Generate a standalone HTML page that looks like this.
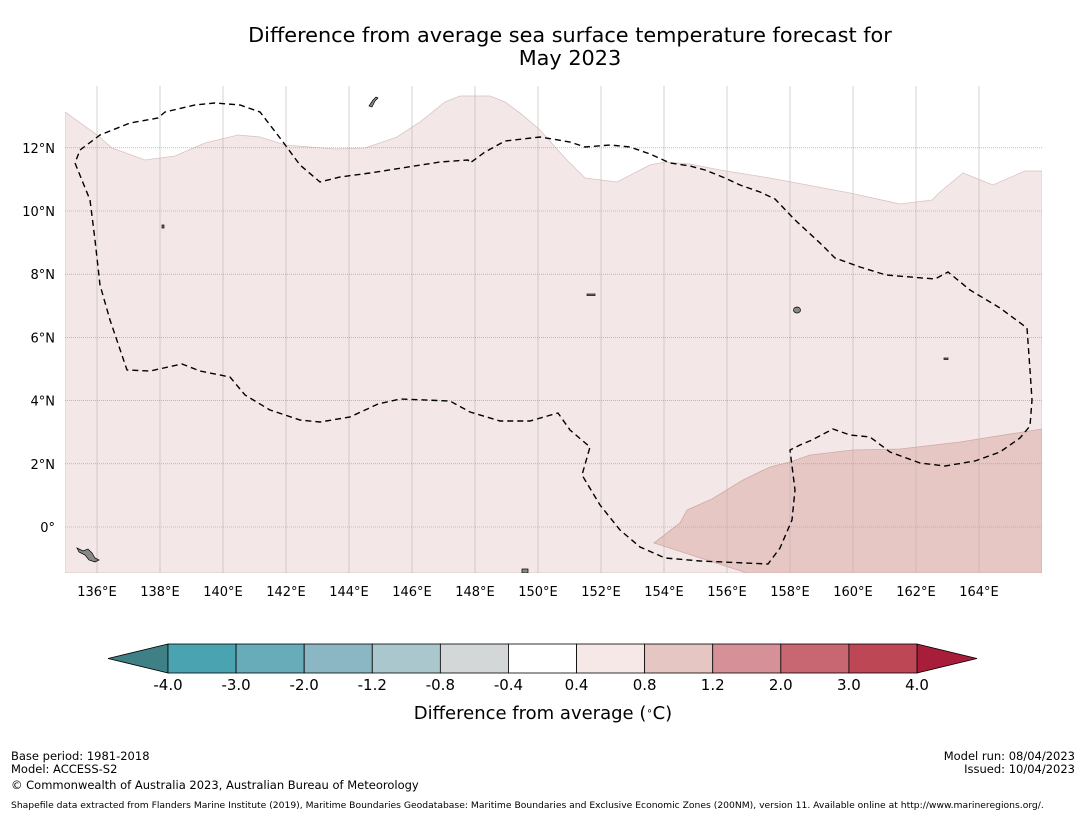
<!DOCTYPE html>
<html><head><meta charset="utf-8"><style>
body{margin:0;background:#fff;width:1085px;height:816px;overflow:hidden;font-family:"Liberation Sans","DejaVu Sans",sans-serif}
svg{position:absolute;left:0;top:0}
</style></head><body>
<svg id="s" width="1085" height="816" font-family="DejaVu Sans, Liberation Sans, sans-serif">
<text x="570" y="42" font-size="20.8" text-anchor="middle">Difference from average sea surface temperature forecast for</text>
<text x="570" y="65" font-size="20.8" text-anchor="middle">May 2023</text>
<defs><clipPath id="mc"><rect x="65" y="86" width="977" height="487"/></clipPath></defs>
<g clip-path="url(#mc)">
<polygon fill="#f3e8e7" stroke="#d8c4c2" stroke-width="0.8" points="65,112 97,135 112,148 145,160 175,156 205,143 238,135 260,137 285,145 335,149 365,148 397,137 420,122 445,102 460,96 490,96 505,102 520,113 540,130 565,158 585,178 617,182 650,165 665,162 690,164 720,170 770,178 850,193 900,204 932,200 940,192 963,173 993,185 1025,171 1042,171 1042,573 65,573"/>
<polygon fill="#e6c7c3" stroke="#cfaaa6" stroke-width="0.8" points="654,543 680,523 687,510 712,499 743,480 770,467 790,462 810,455 853,450 900,449 960,442 1042,429 1042,573 747,573"/>
<g id="grid"></g>
<polyline fill="none" stroke="#000" stroke-width="1.4" stroke-dasharray="6,4" points="80,150 100,135 130,123 158,118 165,112 195,105 215,103 240,105 260,112 280,138 300,165 320,182 340,177 370,173 440,162 468,160 470,163 485,152 505,141 540,137 570,142 585,147 610,145 630,147 650,154 670,163 690,166 705,170 725,178 740,185 760,192 775,199 795,220 820,243 835,258 860,267 886,275 935,279 948,272 970,290 1000,308 1027,328 1030,370 1032,400 1030,426 1020,438 1000,452 975,461 945,466 920,463 890,452 870,437 850,435 833,429 812,440 800,445 790,450 795,490 792,520 780,548 768,564 700,561 665,558 640,547 620,530 600,505 582,475 590,447 570,430 558,413 530,421 500,421 470,412 450,401 400,399 378,404 350,417 320,422 300,420 270,410 245,395 230,377 200,371 182,364 150,371 127,370 110,320 100,285 95,240 90,200 75,163 80,150"/>
<g fill="#888" stroke="#000" stroke-width="0.7">
<path d="M369,106 l4,-6 l3,-3 l2,1 l-3,3 l-3,6z"/>
<path d="M77,548 l6,3 l5,-2 l4,4 l3,5 l4,2 l-4,2 l-6,-2 l-4,-5 l-6,-3z"/>
<ellipse cx="797" cy="310" rx="3.5" ry="3"/>
<rect x="162" y="225" width="2" height="3"/>
<rect x="587" y="294" width="8" height="1.5"/>
<rect x="944" y="358" width="4" height="1.5"/>
<rect x="522" y="569" width="6" height="4"/>
</g>
</g>
<g id="axes" font-size="13"></g>
<g id="cbar"></g>
<text x="543" y="719" font-size="18" text-anchor="middle">Difference from average (<tspan baseline-shift="super" font-size="10">∘</tspan>C)</text>
<g font-size="11.5">
<text x="11" y="760">Base period: 1981-2018</text>
<text x="11" y="773">Model: ACCESS-S2</text>
<text x="11" y="789">© Commonwealth of Australia 2023, Australian Bureau of Meteorology</text>
<text x="1075" y="760" text-anchor="end">Model run: 08/04/2023</text>
<text x="1075" y="773" text-anchor="end">Issued: 10/04/2023</text>
<text x="11" y="808" font-size="9.2">Shapefile data extracted from Flanders Marine Institute (2019), Maritime Boundaries Geodatabase: Maritime Boundaries and Exclusive Economic Zones (200NM), version 11. Available online at http://www.marineregions.org/.</text>
</g>
</svg>
<script>
const lonTicks=[136,138,140,142,144,146,148,150,152,154,156,158,160,162,164];
const latTicks=[12,10,8,6,4,2,0];
const latLabels=["12°N","10°N","8°N","6°N","4°N","2°N","0°"];
const cbBounds=["-4.0","-3.0","-2.0","-1.2","-0.8","-0.4","0.4","0.8","1.2","2.0","3.0","4.0"];
const cbColors=["#4aa3b0","#68abb9","#8ab7c3","#a9c7cc","#d3d7d8","#ffffff","#f5e8e6","#e6c6c2","#d69098","#c86672","#be4755"];
const NS="http://www.w3.org/2000/svg";
const xL=lon=>97+(lon-136)*31.5, yL=lat=>527-lat*31.6;
function mk(t,a,p){const e=document.createElementNS(NS,t);for(const k in a)e.setAttribute(k,a[k]);p.appendChild(e);return e;}
const grid=document.getElementById('grid'),axes=document.getElementById('axes');
lonTicks.forEach(l=>{
 const ln=mk('line',{x1:xL(l),x2:xL(l),y1:86,y2:573,stroke:'#bdb3b3','stroke-width':0.6},grid);
 
 
 const t=mk('text',{x:xL(l),y:596,'text-anchor':'middle'},axes);t.textContent=l+'°E';
 
 
});
latTicks.forEach((l,i)=>{
 const ln=mk('line',{x1:65,x2:1042,y1:yL(l),y2:yL(l),stroke:'#999','stroke-width':0.6,'stroke-dasharray':'1,1'},grid);
 
 
 const t=mk('text',{x:55,y:yL(l)+5,'text-anchor':'end'},axes);t.textContent=latLabels[i];
 
 
});
const cb=document.getElementById('cbar');
const x0=168,x1=917,y0=644,h=29,w=(x1-x0)/cbColors.length;
const lt=mk('polygon',{points:`108,${y0+h/2} ${x0},${y0} ${x0},${y0+h}`,fill:'#3f7f86',stroke:'#000','stroke-width':0.8},cb);


const rt=mk('polygon',{points:`977,${y0+h/2} ${x1},${y0} ${x1},${y0+h}`,fill:'#a81d3a',stroke:'#000','stroke-width':0.8},cb);


cbColors.forEach((c,i)=>{
 const r=mk('rect',{x:x0+i*w,y:y0,width:w,height:h,fill:c,stroke:'#000','stroke-width':0.8},cb);
 
 
});
cbBounds.forEach((b,i)=>{
 const t=mk('text',{x:x0+i*w,y:690,'text-anchor':'middle','font-size':15},cb);t.textContent=b;
 
 
});
</script>
</body></html>
